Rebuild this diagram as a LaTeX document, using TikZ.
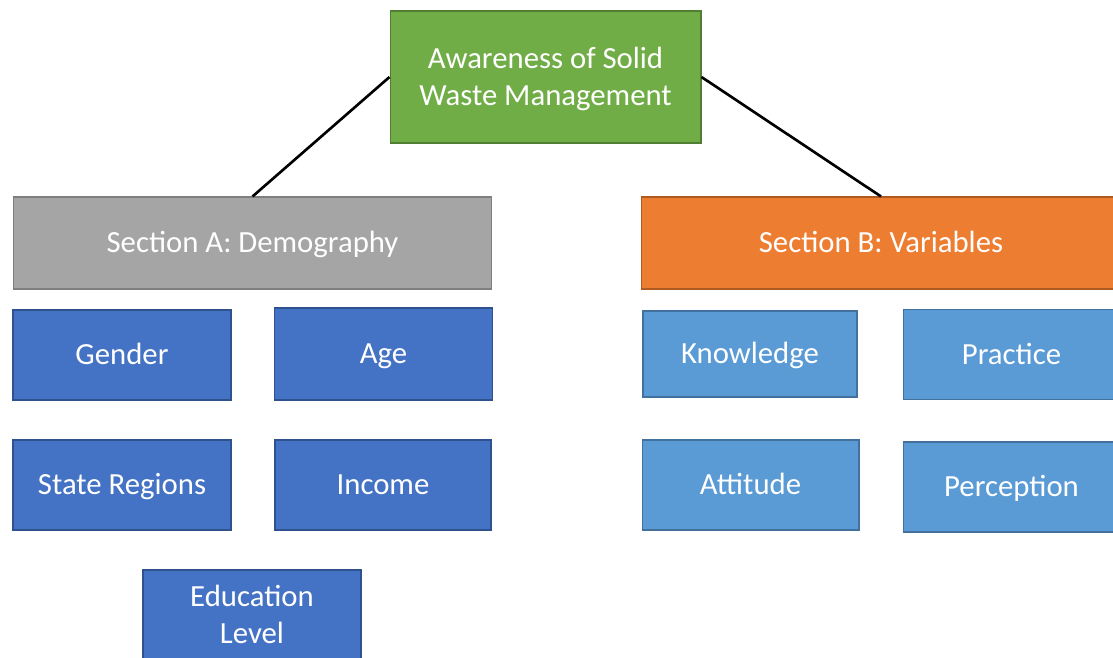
\documentclass[tikz,border=0pt]{standalone}
\usepackage{fontspec}
\setmainfont{Carlito}
\usepackage{xcolor}
\definecolor{topgreen}{HTML}{70AD47}
\definecolor{topgreenline}{HTML}{507E32}
\definecolor{secgray}{HTML}{A5A5A5}
\definecolor{secgrayline}{HTML}{7F7F7F}
\definecolor{secorange}{HTML}{ED7D31}
\definecolor{secorangeline}{HTML}{AE5A21}
\definecolor{itemblue}{HTML}{4472C4}
\definecolor{itemblueline}{HTML}{2F528F}
\definecolor{varblue}{HTML}{5B9BD5}
\definecolor{varblueline}{HTML}{41719C}

\begin{document}
\begin{tikzpicture}[x=0.02cm, y=-0.02cm,
    box/.style={shape=rectangle, inner sep=0pt, align=center, text=white,
      line width=0.6pt, font=\fontsize{17.5}{21.5}\selectfont,
      text height=11.27pt, text depth=0pt},
    twoline/.style={text height=32.77pt},
    topbox/.style={box, fill=topgreen, draw=topgreenline, minimum width=6.22cm, minimum height=2.64cm},
    secbox/.style={box, minimum width=9.58cm, minimum height=1.84cm},
    itembox/.style={box, fill=itemblue, draw=itemblueline, minimum width=4.36cm, minimum height=1.8cm},
    varbox/.style={box, fill=varblue, draw=varblueline, minimum width=4.32cm, minimum height=1.8cm},
    link/.style={line width=1.5pt, black}]
    \useasboundingbox (0,0) rectangle (1113,657);
    \clip (0,0) rectangle (1113,657);

    \node[topbox, twoline] (aware) at (545.5,77) {Awareness of Solid\\Waste Management};

    \node[secbox, fill=secgray, draw=secgrayline] (secA) at (252.5,243) {Section A: Demography};
    \node[secbox, fill=secorange, draw=secorangeline] (secB) at (881,243) {Section B: Variables};

    \draw[link] (aware.west) -- (secA.north);
    \draw[link] (aware.east) -- (secB.north);

    % demography items
    \node[itembox] (gender) at (122,355) {Gender};
    \node[itembox, minimum height=1.84cm] (age) at (383.5,354) {Age};
    \node[itembox] (region) at (122,485) {State Regions};
    \node[itembox, minimum width=4.32cm] (income) at (383,485) {Income};
    \node[itembox, twoline] (edu) at (252,615) {Education\\Level};

    % variables
    \node[varbox, minimum width=4.28cm, minimum height=1.72cm] (know) at (750,354) {Knowledge};
    \node[varbox, minimum width=4.34cm] (prac) at (1011.5,354.5) {Practice};
    \node[varbox, minimum width=4.34cm] (atti) at (750.5,485) {Attitude};
    \node[varbox, minimum width=4.34cm] (perc) at (1011.5,487) {Perception};
\end{tikzpicture}
\end{document}
